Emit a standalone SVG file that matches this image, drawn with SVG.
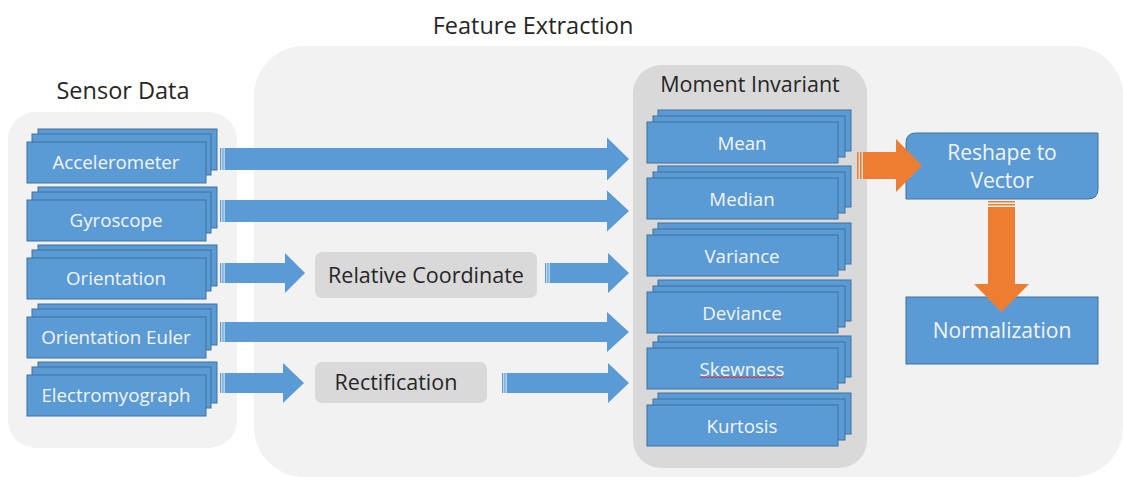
<svg xmlns="http://www.w3.org/2000/svg" width="1123" height="477" viewBox="0 0 1123 477">
<style>
.bg{fill:#F2F2F2}
.grey{fill:#D9D9D9}
.blk{fill:#5B9BD5;stroke:#41719C;stroke-width:1}
.arr{fill:#5B9BD5}
.org{fill:#ED7D31}
.wt{font-family:"Open Sans","Noto Sans",sans-serif;fill:#F4F4F4;text-anchor:middle;font-size:18.7px}
.big{font-size:21px}
.dk{font-family:"Open Sans","Noto Sans",sans-serif;fill:#262626;text-anchor:middle;font-size:21.5px}
.ttl{font-size:23.5px}
</style>
<rect width="1123" height="477" fill="#FFFFFF"/>
<g id="feature-extraction">
<rect class="bg" x="254" y="46" width="869" height="431" rx="50"/>
<text class="dk ttl" x="533" y="34">Feature Extraction</text>
</g>
<g id="sensor-data">
<rect class="bg" x="8" y="112" width="229" height="336" rx="28"/>
<text class="dk ttl" x="123" y="99">Sensor Data</text>
</g>
<g id="accelerometer">
<rect class="blk" x="38" y="129" width="179" height="41"/>
<rect class="blk" x="32" y="134" width="179" height="41"/>
<rect class="blk" x="27" y="142" width="179" height="41"/>
<text class="wt" x="116" y="169">Accelerometer</text>
</g>
<g id="gyroscope">
<rect class="blk" x="38" y="187" width="179" height="41"/>
<rect class="blk" x="32" y="192" width="179" height="41"/>
<rect class="blk" x="27" y="200" width="179" height="41"/>
<text class="wt" x="116" y="227">Gyroscope</text>
</g>
<g id="orientation">
<rect class="blk" x="38" y="245" width="179" height="41"/>
<rect class="blk" x="32" y="250" width="179" height="41"/>
<rect class="blk" x="27" y="258" width="179" height="41"/>
<text class="wt" x="116" y="285">Orientation</text>
</g>
<g id="orientation-euler">
<rect class="blk" x="38" y="304" width="179" height="41"/>
<rect class="blk" x="32" y="309" width="179" height="41"/>
<rect class="blk" x="27" y="317" width="179" height="41"/>
<text class="wt" x="116" y="344">Orientation Euler</text>
</g>
<g id="electromyograph">
<rect class="blk" x="38" y="362" width="179" height="41"/>
<rect class="blk" x="32" y="367" width="179" height="41"/>
<rect class="blk" x="27" y="375" width="179" height="41"/>
<text class="wt" x="116" y="402">Electromyograph</text>
</g>
<g id="relative-coordinate">
<rect class="grey" x="315" y="252" width="222" height="46" rx="7"/>
<text class="dk" x="426" y="283">Relative Coordinate</text>
</g>
<g id="rectification">
<rect class="grey" x="315" y="362" width="172" height="41" rx="7"/>
<text class="dk" x="396" y="390">Rectification</text>
</g>
<g id="moment-invariant">
<rect class="grey" x="633" y="65" width="234" height="403" rx="28"/>
<text class="dk" x="750" y="92">Moment Invariant</text>
</g>
<g id="mean">
<rect class="blk" x="658" y="110" width="193" height="41"/>
<rect class="blk" x="653" y="116" width="192" height="41"/>
<rect class="blk" x="647" y="122" width="191" height="41"/>
<text class="wt" x="742" y="150">Mean</text>
</g>
<g id="median">
<rect class="blk" x="658" y="166" width="193" height="41"/>
<rect class="blk" x="653" y="172" width="192" height="41"/>
<rect class="blk" x="647" y="178" width="191" height="41"/>
<text class="wt" x="742" y="206">Median</text>
</g>
<g id="variance">
<rect class="blk" x="658" y="223" width="193" height="41"/>
<rect class="blk" x="653" y="229" width="192" height="41"/>
<rect class="blk" x="647" y="235" width="191" height="41"/>
<text class="wt" x="742" y="263">Variance</text>
</g>
<g id="deviance">
<rect class="blk" x="658" y="280" width="193" height="41"/>
<rect class="blk" x="653" y="286" width="192" height="41"/>
<rect class="blk" x="647" y="292" width="191" height="41"/>
<text class="wt" x="742" y="320">Deviance</text>
</g>
<g id="skewness">
<rect class="blk" x="658" y="336" width="193" height="41"/>
<rect class="blk" x="653" y="342" width="192" height="41"/>
<rect class="blk" x="647" y="348" width="191" height="41"/>
<text class="wt" x="742" y="376">Skewness</text>
<path d="M700,378 l2,-1.5 l2,1.5 l2,-1.5 l2,1.5 l2,-1.5 l2,1.5 l2,-1.5 l2,1.5 l2,-1.5 l2,1.5 l2,-1.5 l2,1.5 l2,-1.5 l2,1.5 l2,-1.5 l2,1.5 l2,-1.5 l2,1.5 l2,-1.5 l2,1.5 l2,-1.5 l2,1.5 l2,-1.5 l2,1.5 l2,-1.5 l2,1.5 l2,-1.5 l2,1.5 l2,-1.5 l2,1.5 l2,-1.5 l2,1.5 l2,-1.5 l2,1.5 l2,-1.5 l2,1.5 l2,-1.5 l2,1.5 l2,-1.5 l2,1.5 l2,-1.5" fill="none" stroke="#E03030" stroke-width="1"/>
</g>
<g id="kurtosis">
<rect class="blk" x="658" y="393" width="193" height="41"/>
<rect class="blk" x="653" y="399" width="192" height="41"/>
<rect class="blk" x="647" y="405" width="191" height="41"/>
<text class="wt" x="742" y="433">Kurtosis</text>
</g>
<g id="reshape-to-vector">
<path class="arr" d="M916,133 H1098 V189 Q1098,199 1088,199 H906 V143 Q906,133 916,133 Z" stroke="#41719C" stroke-width="1"/>
<text class="wt big" x="1002" y="160">Reshape to</text>
<text class="wt big" x="1002" y="188">Vector</text>
</g>
<g id="normalization">
<rect class="blk" x="906" y="297" width="192" height="67"/>
<text class="wt big" x="1002" y="338">Normalization</text>
</g>
<g id="connectors">
<rect class="arr" x="220" y="148" width="1.3" height="22"/><rect class="arr" x="222.3" y="148" width="1.3" height="22"/>
<path class="arr" d="M224.6,148 H607 V137.5 L629,159 L607,180.5 V170 H224.6 Z"/>
<rect class="arr" x="220" y="200" width="1.3" height="22"/><rect class="arr" x="222.3" y="200" width="1.3" height="22"/>
<path class="arr" d="M224.6,200 H607 V190.5 L629,211 L607,231.5 V222 H224.6 Z"/>
<rect class="arr" x="220" y="263" width="1.3" height="20"/><rect class="arr" x="222.3" y="263" width="1.3" height="20"/>
<path class="arr" d="M224.6,263 H285 V253 L305,273 L285,293 V283 H224.6 Z"/>
<rect class="arr" x="545" y="263" width="1.3" height="20"/><rect class="arr" x="547.3" y="263" width="1.3" height="20"/>
<path class="arr" d="M549.6,263 H608 V253 L629,273 L608,293 V283 H549.6 Z"/>
<rect class="arr" x="220" y="322" width="1.3" height="20"/><rect class="arr" x="222.3" y="322" width="1.3" height="20"/>
<path class="arr" d="M224.6,322 H607 V312 L629,332 L607,352 V342 H224.6 Z"/>
<rect class="arr" x="220" y="373" width="1.3" height="20"/><rect class="arr" x="222.3" y="373" width="1.3" height="20"/>
<path class="arr" d="M224.6,373 H283 V363 L304,383 L283,403 V393 H224.6 Z"/>
<rect class="arr" x="502" y="373" width="1.3" height="20"/><rect class="arr" x="504.3" y="373" width="1.3" height="20"/>
<path class="arr" d="M506.6,373 H608 V363 L629,383 L608,403 V393 H506.6 Z"/>
<rect class="org" x="857" y="152" width="1.5" height="27"/><rect class="org" x="860" y="152" width="1.5" height="27"/>
<path class="org" d="M863,152 H896 V139 L922,165.5 L896,192 V179 H863 Z"/>
<rect class="org" x="988" y="201" width="27" height="1.5"/><rect class="org" x="988" y="204" width="27" height="1.5"/>
<path class="org" d="M988,207 V284 H974 L1001.5,312 L1029,284 H1015 V207 Z"/>
</g>
</svg>
